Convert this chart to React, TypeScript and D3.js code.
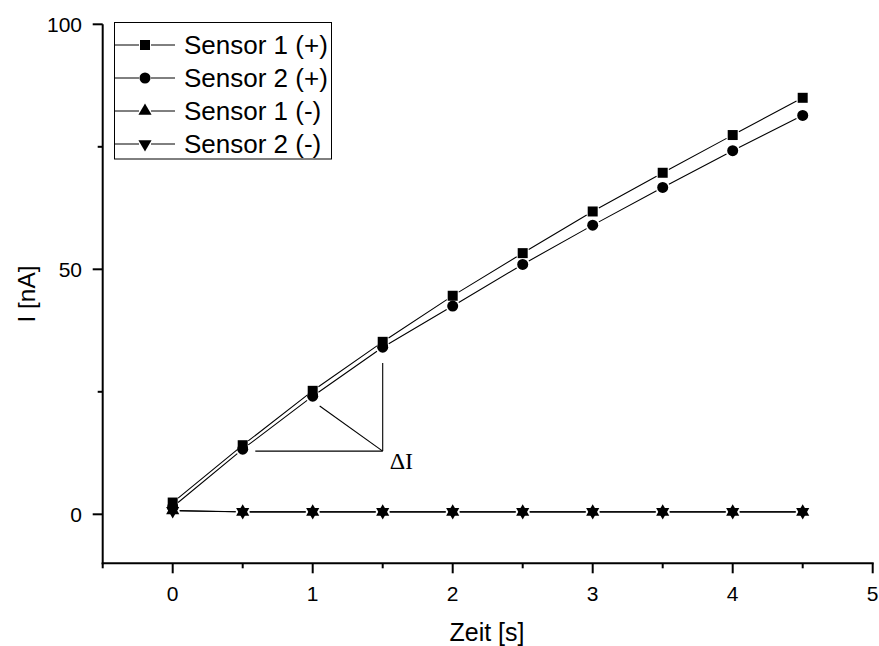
import React from "react";
import * as d3 from "d3";

const times = [0, 0.5, 1, 1.5, 2, 2.5, 3, 3.5, 4, 4.5];
const sensor1Plus = [2.4, 14.1, 25.2, 35.2, 44.6, 53.3, 61.8, 69.7, 77.4, 85.0];
const sensor2Plus = [1.5, 13.3, 24.1, 34.1, 42.5, 51.0, 59.0, 66.7, 74.2, 81.4];
const sensor1Minus = [0.8, 0.5, 0.5, 0.5, 0.5, 0.5, 0.5, 0.5, 0.5, 0.5];
const sensor2Minus = [0.7, 0.5, 0.5, 0.5, 0.5, 0.5, 0.5, 0.5, 0.5, 0.5];
const seriesNames = ["Sensor 1 (+)", "Sensor 2 (+)", "Sensor 1 (-)", "Sensor 2 (-)"];
const xMajorTicks = [0, 1, 2, 3, 4, 5];
const xMinorTicks = [-0.5, 0.5, 1.5, 2.5, 3.5, 4.5];
const yMajorTicks = [0, 50, 100];
const yMinorTicks = [25, 75];
// annotation ΔI: [x1,y1,x2,y2] in data units
const annoLines = [
  [0.59, 12.9, 1.5, 12.9],
  [1.05, 22.1, 1.5, 12.9],
  [1.5, 30.9, 1.5, 12.9],
];

const W = 879, H = 646;
const FONT = "'Liberation Sans', Arial, sans-serif";

const x = d3.scaleLinear().domain([-0.5, 5]).range([102.7, 872.7]);
const y = d3.scaleLinear().domain([-10, 100]).range([563.3, 24.3]);

type Kind = "square" | "circle" | "tri" | "triDown";
const kinds: Kind[] = ["square", "circle", "tri", "triDown"];
const seriesData = [sensor1Plus, sensor2Plus, sensor1Minus, sensor2Minus];

function symPath(k: Kind) {
  if (k === "square") return d3.symbol(d3.symbolSquare, 100)()!;
  if (k === "circle") return d3.symbol(d3.symbolCircle, 95)()!;
  return d3.symbol(d3.symbolTriangle, 75)()!;
}

function Marker({ k, cx, cy }: { k: Kind; cx: number; cy: number }) {
  const rot = k === "triDown" ? " rotate(180)" : "";
  return <path d={symPath(k)} transform={`translate(${cx},${cy})${rot}`} fill="#000" />;
}

function gapSegments(vals: number[], gap: number) {
  const segs: string[] = [];
  for (let i = 0; i < vals.length - 1; i++) {
    const x1 = x(times[i]), y1 = y(vals[i]);
    const x2 = x(times[i + 1]), y2 = y(vals[i + 1]);
    const dx = x2 - x1, dy = y2 - y1;
    const len = Math.hypot(dx, dy);
    if (len <= 2 * gap) continue;
    const ux = dx / len, uy = dy / len;
    segs.push(`M${x1 + ux * gap},${y1 + uy * gap}L${x2 - ux * gap},${y2 - uy * gap}`);
  }
  return segs.join("");
}

export default function App() {
  const axisY0 = y(-10);
  const axisX0 = x(-0.5);
  return (
    <svg width={W} height={H} style={{ position: "absolute", left: 0, top: 0, background: "#fff" }} fontFamily={FONT}>
      <rect width={W} height={H} fill="#fff" />
      {/* series lines */}
      {seriesData.map((vals, i) => (
        <path key={"l" + i} d={gapSegments(vals, 7)} stroke="#000" strokeWidth={1.1} fill="none" />
      ))}
      {/* markers */}
      {seriesData.map((vals, i) =>
        vals.map((v, j) => <Marker key={`m${i}-${j}`} k={kinds[i]} cx={x(times[j])} cy={y(v)} />)
      )}
      {/* annotation */}
      {annoLines.map((l, i) => (
        <line key={"a" + i} x1={x(l[0])} y1={y(l[1])} x2={x(l[2])} y2={y(l[3])} stroke="#000" strokeWidth={1.1} />
      ))}
      <text x={x(1.55)} y={y(9.2)} fontFamily="'Liberation Serif', 'Times New Roman', serif" fontSize={24}>ΔI</text>
      {/* axes */}
      <line x1={axisX0} y1={y(100)} x2={axisX0} y2={axisY0 + 1} stroke="#000" strokeWidth={2} />
      <line x1={axisX0 - 1} y1={axisY0} x2={x(5) + 1} y2={axisY0} stroke="#000" strokeWidth={2} />
      {xMajorTicks.map((t) => (
        <g key={"xt" + t}>
          <line x1={x(t)} x2={x(t)} y1={axisY0} y2={axisY0 + 10} stroke="#000" strokeWidth={2} />
          <text x={x(t)} y={600.5} textAnchor="middle" fontSize={21}>{t}</text>
        </g>
      ))}
      {xMinorTicks.map((t) => (
        <line key={"xm" + t} x1={x(t)} x2={x(t)} y1={axisY0} y2={axisY0 + 5} stroke="#000" strokeWidth={2} />
      ))}
      {yMajorTicks.map((t) => (
        <g key={"yt" + t}>
          <line x1={axisX0} x2={axisX0 - 10} y1={y(t)} y2={y(t)} stroke="#000" strokeWidth={2} />
          <text x={82} y={y(t) + 7.5} textAnchor="end" fontSize={21}>{t}</text>
        </g>
      ))}
      {yMinorTicks.map((t) => (
        <line key={"ym" + t} x1={axisX0} x2={axisX0 - 5} y1={y(t)} y2={y(t)} stroke="#000" strokeWidth={2} />
      ))}
      <text x={487} y={641} textAnchor="middle" fontSize={25}>Zeit [s]</text>
      <text transform={`translate(35,294) rotate(-90)`} textAnchor="middle" fontSize={24.5}>I [nA]</text>
      {/* legend */}
      <rect x={114.5} y={22.5} width={217} height={136.5} fill="#fff" stroke="#000" strokeWidth={1} />
      {seriesNames.map((name, i) => {
        const ry = 45 + i * 33;
        return (
          <g key={"lg" + i}>
            <line x1={115} x2={139} y1={ry} y2={ry} stroke="#000" strokeWidth={1} />
            <line x1={151} x2={175} y1={ry} y2={ry} stroke="#000" strokeWidth={1} />
            <Marker k={kinds[i]} cx={145} cy={ry} />
            <text x={184} y={ry + 9} fontSize={26}>{name}</text>
          </g>
        );
      })}
    </svg>
  );
}
